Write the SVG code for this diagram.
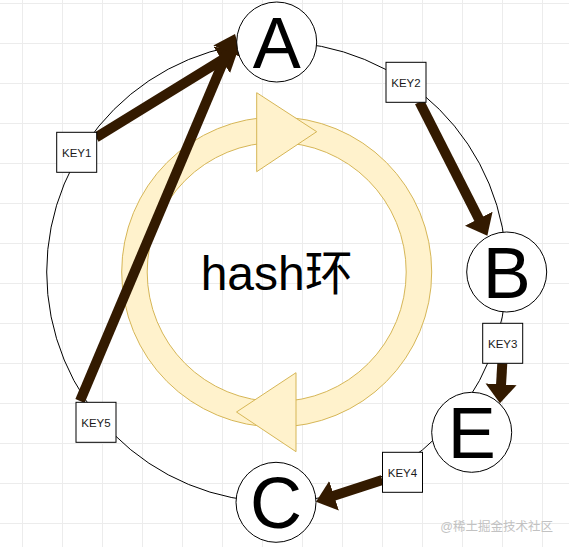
<svg xmlns="http://www.w3.org/2000/svg" width="569" height="547" viewBox="0 0 569 547">
  <defs>
    <pattern id="grid" width="40" height="40" patternUnits="userSpaceOnUse" x="22" y="3">
      <path d="M0 0.5 H40 M0.5 0 V40" fill="none" stroke="#ececec" stroke-width="1"/>
    </pattern>
    <marker id="head" markerUnits="userSpaceOnUse" viewBox="-1 -16 20 32" markerWidth="20" markerHeight="32" refX="0" refY="0" orient="auto">
      <path d="M-1,-15.5 L18,0 L-1,15.5 Z" fill="#331a00"/>
    </marker>
    <style>
      .ring { fill: #fff2cc; stroke: #d6b656; stroke-width: 1; }
      .node { fill: #ffffff; stroke: #000000; stroke-width: 1; }
      .big { font-family: "Liberation Sans", Arial, sans-serif; font-size: 72px; fill: #000; text-anchor: middle; }
      .key { font-family: "Liberation Sans", Arial, sans-serif; font-size: 11.5px; fill: #1a1a1a; text-anchor: middle; }
      .arrow { stroke: #331a00; stroke-width: 10; fill: none; marker-end: url(#head); }
    </style>
  </defs>

  <rect x="0" y="0" width="569" height="547" fill="#ffffff"/>
  <rect x="0" y="0" width="569" height="547" fill="url(#grid)"/>

  <!-- big hash ring outline -->
  <circle id="outer-ring" cx="276.7" cy="272" r="230" fill="none" stroke="#000" stroke-width="1"/>

  <!-- yellow rotating ring -->
  <g id="cycle">
    <path class="ring" fill-rule="evenodd" d="M121.7,272 A155,155 0 1,0 431.7,272 A155,155 0 1,0 121.7,272 Z M147.2,272 A129.5,129.5 0 1,0 406.2,272 A129.5,129.5 0 1,0 147.2,272 Z"/>
    <polygon class="ring" points="256.7,92.7 256.7,171.7 316.7,131.7"/>
    <polygon class="ring" points="296,372.7 296,451.7 236.5,412"/>
    <text x="276.7" y="290" font-family="'Liberation Sans', 'Noto Sans CJK SC', sans-serif" font-size="48" text-anchor="middle" fill="#000">hash环</text>
  </g>

  <!-- connectors -->
  <g id="connectors">
    <line class="arrow" x1="96" y1="137.5" x2="222.7" y2="59.5"/>
    <line class="arrow" x1="80" y1="401" x2="228" y2="50.6"/>
    <line class="arrow" x1="419.5" y1="102" x2="479.2" y2="219.6"/>
    <line class="arrow" x1="502.3" y1="363.3" x2="501" y2="385.3"/>
    <line class="arrow" x1="382.3" y1="480" x2="333.1" y2="496.1"/>
  </g>

  <!-- nodes -->
  <g id="node-A">
    <circle class="node" cx="276.7" cy="42" r="40"/>
    <text class="big" x="276.7" y="67.5">A</text>
  </g>
  <g id="node-B">
    <circle class="node" cx="506.7" cy="272" r="40"/>
    <text class="big" x="506.7" y="297.5">B</text>
  </g>
  <g id="node-E">
    <circle class="node" cx="471.7" cy="432.3" r="40"/>
    <text class="big" x="471.7" y="458">E</text>
  </g>
  <g id="node-C">
    <circle class="node" cx="276" cy="502.3" r="40"/>
    <text class="big" x="276" y="528">C</text>
  </g>

  <g id="key1">
    <rect class="node" x="56.7" y="132.3" width="40" height="40"/>
    <text class="key" x="76.7" y="156.5">KEY1</text>
  </g>
  <g id="key2">
    <rect class="node" x="386" y="62.3" width="40" height="40"/>
    <text class="key" x="406" y="86.5">KEY2</text>
  </g>
  <g id="key3">
    <rect class="node" x="482.7" y="323.3" width="40" height="40"/>
    <text class="key" x="502.7" y="347.5">KEY3</text>
  </g>
  <g id="key4">
    <rect class="node" x="382.5" y="452.3" width="40" height="40"/>
    <text class="key" x="402.5" y="476.5">KEY4</text>
  </g>
  <g id="key5">
    <rect class="node" x="76" y="402.3" width="40" height="40"/>
    <text class="key" x="96" y="426.5">KEY5</text>
  </g>

  <text x="553" y="531" font-family="'Liberation Sans', 'Noto Sans CJK SC', sans-serif" font-size="12.5" text-anchor="end" fill="#c2c2c2">@稀土掘金技术社区</text>
</svg>
